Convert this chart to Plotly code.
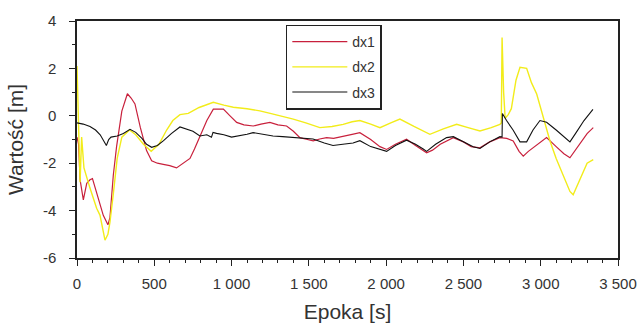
import plotly.graph_objects as go

# ---- data ----
t1 = [0, 10, 20, 41, 63, 84, 100, 130, 170, 200, 213, 235, 256, 290, 326, 350, 375, 410, 450, 483, 520, 558, 600, 644, 690, 731, 760, 795, 840, 882, 947, 990, 1033, 1080, 1140, 1190, 1248, 1300, 1356, 1400, 1442, 1490, 1528, 1570, 1615, 1660, 1722, 1780, 1830, 1900, 1960, 2003, 2060, 2132, 2190, 2262, 2300, 2350, 2434, 2500, 2550, 2607, 2670, 2736, 2780, 2822, 2860, 2887, 2920, 2952, 3000, 3038, 3100, 3150, 3189, 3250, 3300, 3340]
dx1 = [-0.9, -1.2, -2.7, -3.55, -2.85, -2.7, -2.65, -3.3, -4.2, -4.6, -4.3, -2.5, -1.3, 0.2, 0.93, 0.75, 0.5, -0.5, -1.47, -1.9, -2.0, -2.05, -2.1, -2.2, -2.0, -1.8, -1.4, -0.85, -0.2, 0.28, 0.28, 0.0, -0.28, -0.38, -0.43, -0.35, -0.28, -0.38, -0.43, -0.65, -0.92, -1.0, -1.06, -0.98, -0.92, -0.95, -0.85, -0.78, -0.71, -1.0, -1.3, -1.42, -1.2, -0.99, -1.25, -1.56, -1.45, -1.2, -0.92, -1.1, -1.3, -1.35, -1.1, -0.92, -0.95, -1.06, -1.5, -1.7, -1.5, -1.35, -1.1, -0.92, -1.3, -1.6, -1.77, -1.2, -0.75, -0.5]

t2 = [0, 10, 20, 30, 45, 84, 127, 149, 181, 200, 213, 235, 260, 290, 340, 380, 430, 480, 530, 580, 620, 666, 720, 790, 882, 950, 1011, 1100, 1183, 1250, 1320, 1399, 1480, 1571, 1650, 1722, 1780, 1830, 1900, 1960, 2030, 2089, 2180, 2283, 2370, 2456, 2530, 2607, 2680, 2736, 2745, 2750, 2760, 2770, 2790, 2810, 2840, 2866, 2909, 2940, 2974, 3016, 3060, 3100, 3150, 3189, 3210, 3260, 3300, 3340]
dx2 = [2.1, -0.5, -2.8, -0.9, -2.2, -3.05, -3.9, -4.2, -5.25, -5.0, -4.5, -3.3, -1.8, -0.9, -0.6, -0.8, -1.2, -1.5, -1.2, -0.6, -0.2, 0.05, 0.1, 0.35, 0.57, 0.45, 0.36, 0.3, 0.21, 0.1, 0.0, -0.14, -0.3, -0.5, -0.45, -0.36, -0.25, -0.2, -0.35, -0.5, -0.3, -0.14, -0.45, -0.78, -0.55, -0.36, -0.5, -0.64, -0.5, -0.36, -0.3, 3.3, 1.0, -0.1, 0.05, 0.3, 1.5, 2.05, 2.0, 1.4, 0.92, -0.07, -1.06, -1.8, -2.6, -3.19, -3.33, -2.6, -2.0, -1.85]

t3 = [0, 40, 84, 120, 150, 175, 190, 205, 220, 260, 300, 343, 380, 420, 450, 483, 520, 560, 610, 666, 700, 750, 795, 840, 870, 880, 903, 950, 1000, 1054, 1100, 1139, 1200, 1268, 1330, 1398, 1460, 1527, 1600, 1656, 1720, 1786, 1830, 1900, 2003, 2060, 2132, 2190, 2240, 2262, 2320, 2391, 2435, 2500, 2563, 2607, 2670, 2736, 2750, 2752, 2760, 2779, 2821, 2866, 2909, 2950, 2995, 3038, 3100, 3150, 3189, 3230, 3280, 3338]
dx3 = [-0.3, -0.35, -0.45, -0.6, -0.8, -1.1, -1.25, -1.0, -0.9, -0.85, -0.75, -0.57, -0.7, -0.95, -1.2, -1.33, -1.25, -1.05, -0.75, -0.47, -0.55, -0.65, -0.85, -0.8, -0.9, -0.7, -0.74, -0.8, -0.9, -0.85, -0.78, -0.71, -0.78, -0.85, -0.88, -0.92, -0.95, -0.98, -1.15, -1.25, -1.2, -1.15, -1.05, -1.3, -1.5, -1.25, -1.03, -1.2, -1.4, -1.5, -1.2, -0.92, -0.88, -1.1, -1.31, -1.38, -1.1, -0.88, -0.9, 0.1, 0.0, -0.2, -0.6, -1.1, -1.1, -0.6, -0.2, -0.27, -0.6, -0.9, -1.1, -0.7, -0.2, 0.27]

x_tickvals = [0, 500, 1000, 1500, 2000, 2500, 3000, 3500]
x_ticktext = ["0", "500", "1 000", "1 500", "2 000", "2 500", "3 000", "3 500"]
y_tickvals = [-6, -4, -2, 0, 2, 4]
y_ticktext = ["-6", "-4", "-2", "0", "2", "4"]

FONT = "Liberation Sans, Arial, sans-serif"

fig = go.Figure()
fig.add_trace(go.Scatter(x=t1, y=dx1, mode="lines", name="dx1", legendgroup="a",
                         line=dict(color="#C8203C", width=1.2)))
fig.add_trace(go.Scatter(x=t2, y=dx2, mode="lines", name="dx2", legendgroup="b",
                         line=dict(color="#F2EC1A", width=1.4)))
fig.add_trace(go.Scatter(x=t3, y=dx3, mode="lines", name="dx3", legendgroup="c",
                         line=dict(color="#111111", width=1.1)))

axis_common = dict(showgrid=False, zeroline=False, showline=True, linecolor="#222222",
                   linewidth=1.5, mirror=True, ticks="outside", tickcolor="#222222",
                   ticklen=6, tickwidth=1.2, automargin=False,
                   tickfont=dict(family=FONT, size=15, color="#333333"))

fig.update_xaxes(range=[0, 3500], tickvals=x_tickvals, ticktext=x_ticktext,
                 ticklabelstandoff=5,
                 minor=dict(dtick=100, ticks="outside", ticklen=3, tickcolor="#222222", tickwidth=1),
                 title=dict(text="Epoka [s]", font=dict(family=FONT, size=21, color="#333333"), standoff=14),
                 **axis_common)
fig.update_yaxes(range=[-6, 4], tickvals=y_tickvals, ticktext=y_ticktext,
                 ticklabelstandoff=10,
                 minor=dict(dtick=1, ticks="outside", ticklen=3, tickcolor="#222222", tickwidth=1),
                 title=dict(text="Wartość [m]", font=dict(family=FONT, size=21, color="#333333"), standoff=14),
                 **axis_common)

fig.update_layout(
    width=641, height=329,
    margin=dict(l=77, r=23, t=21, b=71),
    plot_bgcolor="white", paper_bgcolor="white",
    showlegend=True,
    legend=dict(x=0.386, y=0.985, xanchor="left", yanchor="top",
                bgcolor="white", bordercolor="#222222", borderwidth=1.5,
                font=dict(family=FONT, size=14, color="#333333"),
                tracegroupgap=4, itemwidth=55),
)

fig.write_html("out.html", config={"displayModeBar": False},
               post_script="document.body.style.margin='0';document.body.style.overflow='hidden';")
